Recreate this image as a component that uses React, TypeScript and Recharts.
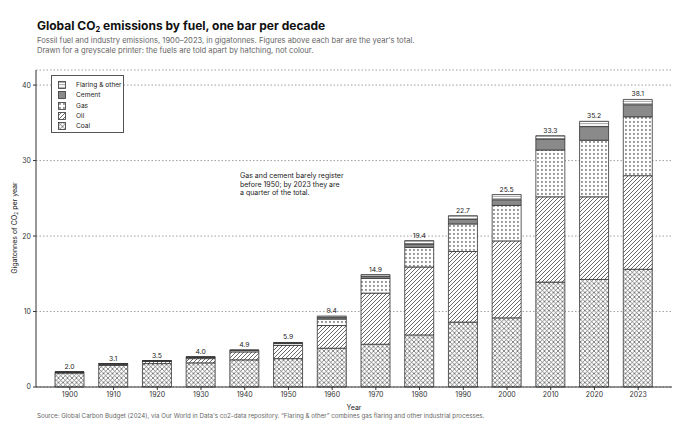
import { BarChart, Bar, XAxis, YAxis, CartesianGrid, LabelList } from 'recharts';

const years = ['1900', '1910', '1920', '1930', '1940', '1950', '1960', '1970', '1980', '1990', '2000', '2010', '2020', '2023'];
const coal = [1.85, 2.85, 3.1, 3.2, 3.6, 3.76, 5.14, 5.67, 6.9, 8.6, 9.16, 13.9, 14.25, 15.6];
const oil = [0.1, 0.17, 0.3, 0.56, 1.05, 1.74, 3.0, 6.77, 9.0, 9.35, 10.2, 11.3, 10.95, 12.4];
const gas = [0.03, 0.05, 0.06, 0.17, 0.17, 0.25, 0.86, 1.95, 2.6, 3.65, 4.7, 6.2, 7.5, 7.8];
const cement = [0.01, 0.02, 0.03, 0.05, 0.06, 0.1, 0.2, 0.3, 0.45, 0.6, 0.75, 1.45, 1.8, 1.6];
const flaring = [0.01, 0.01, 0.01, 0.02, 0.02, 0.05, 0.2, 0.21, 0.45, 0.5, 0.69, 0.45, 0.7, 0.7];
const totals = ['2.0', '3.1', '3.5', '4.0', '4.9', '5.9', '9.4', '14.9', '19.4', '22.7', '25.5', '33.3', '35.2', '38.1'];
const yTicks = [0, 10, 20, 30, 40];

const data = years.map((year, i) => ({
  year,
  coal: coal[i],
  oil: oil[i],
  gas: gas[i],
  cement: cement[i],
  flaring: flaring[i],
  total: totals[i],
}));

const FONT = 'Inter, "Noto Sans", sans-serif';
const EDGE = '#333';

// legend, top row first
const legendItems = [
  { label: 'Flaring & other', fill: 'url(#pat-flaring)' },
  { label: 'Cement', fill: '#8a8a8a' },
  { label: 'Gas', fill: 'url(#pat-gas)' },
  { label: 'Oil', fill: 'url(#pat-oil)' },
  { label: 'Coal', fill: 'url(#pat-coal)' },
];

function Patterns() {
  return (
    <svg width={0} height={0} style={{ position: 'absolute' }}>
      <defs>
        <pattern id="pat-coal" patternUnits="userSpaceOnUse" width={4.5} height={4.5}>
          <rect width={4.5} height={4.5} fill="#fff" />
          <path d="M0,0 L4.5,4.5 M4.5,0 L0,4.5" stroke="#555" strokeWidth={0.7} />
        </pattern>
        <pattern id="pat-oil" patternUnits="userSpaceOnUse" width={4} height={4}>
          <rect width={4} height={4} fill="#fff" />
          <path d="M-1,1 L1,-1 M0,4 L4,0 M3,5 L5,3" stroke="#444" strokeWidth={0.8} />
        </pattern>
        <pattern id="pat-gas" patternUnits="userSpaceOnUse" width={4} height={4}>
          <rect width={4} height={4} fill="#fff" />
          <rect x={1.2} y={1.2} width={1.5} height={1.5} fill="#555" />
        </pattern>
        <pattern id="pat-flaring" patternUnits="userSpaceOnUse" width={3} height={2.5}>
          <rect width={3} height={2.5} fill="#fff" />
          <path d="M0,1.25 L3,1.25" stroke="#555" strokeWidth={0.6} />
        </pattern>
      </defs>
    </svg>
  );
}

export default function App() {
  return (
    <div style={{ position: 'relative', width: 690, height: 431, background: '#fff', fontFamily: FONT }}>
      <style>{'body{margin:0}'}</style>
      <Patterns />
      <div style={{ position: 'absolute', left: 37, top: 18, fontSize: 12, fontWeight: 700, color: '#111', whiteSpace: 'nowrap' }}>
        Global CO<sub style={{ fontSize: 7.5, verticalAlign: '-2px' }}>2</sub> emissions by fuel, one bar per decade
      </div>
      <div style={{ position: 'absolute', left: 37, top: 36, fontSize: 7.6, lineHeight: '9.5px', color: '#666', whiteSpace: 'nowrap' }}>
        Fossil fuel and industry emissions, 1900–2023, in gigatonnes. Figures above each bar are the year's total.
        <br />
        Drawn for a greyscale printer: the fuels are told apart by hatching, not colour.
      </div>

      <BarChart
        width={690}
        height={431}
        data={data}
        margin={{ top: 70, right: 18, bottom: 0, left: 0 }}
        style={{ position: 'absolute', left: 0, top: 0 }}
      >
        <CartesianGrid vertical={false} stroke="#888" strokeDasharray="1.5 2" strokeWidth={0.8} />
        <XAxis
          dataKey="year"
          height={44}
          padding={{ left: 12, right: 12 }}
          tick={{ fontSize: 7, fill: '#333', fontFamily: FONT }}
          tickSize={3}
          axisLine={{ stroke: '#333' }}
          tickLine={{ stroke: '#333' }}
          label={{ value: 'Year', position: 'insideBottom', offset: 21, fontSize: 7, fill: '#222', fontFamily: FONT }}
        />
        <YAxis
          width={36}
          domain={[0, 42]}
          ticks={yTicks}
          tick={{ fontSize: 7, fill: '#333', fontFamily: FONT }}
          tickSize={3}
          axisLine={{ stroke: '#333' }}
          tickLine={{ stroke: '#333' }}
        />
        <Bar dataKey="coal" stackId="a" fill="url(#pat-coal)" stroke={EDGE} strokeWidth={0.8} barSize={29} isAnimationActive={false} />
        <Bar dataKey="oil" stackId="a" fill="url(#pat-oil)" stroke={EDGE} strokeWidth={0.8} barSize={29} isAnimationActive={false} />
        <Bar dataKey="gas" stackId="a" fill="url(#pat-gas)" stroke={EDGE} strokeWidth={0.8} barSize={29} isAnimationActive={false} />
        <Bar dataKey="cement" stackId="a" fill="#8a8a8a" stroke={EDGE} strokeWidth={0.8} barSize={29} isAnimationActive={false} />
        <Bar dataKey="flaring" stackId="a" fill="url(#pat-flaring)" stroke={EDGE} strokeWidth={0.8} barSize={29} isAnimationActive={false}>
          <LabelList dataKey="total" position="top" offset={3} style={{ fontSize: 6.8, fill: '#222', fontFamily: FONT }} />
        </Bar>
      </BarChart>

      <div
        style={{
          position: 'absolute',
          left: 14,
          top: 228,
          transform: 'translate(-50%, -50%) rotate(-90deg)',
          fontSize: 7,
          color: '#222',
          whiteSpace: 'nowrap',
        }}
      >
        Gigatonnes of CO<sub style={{ fontSize: 5, verticalAlign: '-1px' }}>2</sub> per year
      </div>

      <div style={{ position: 'absolute', left: 240, top: 172, fontSize: 7, lineHeight: '8.6px', color: '#222', whiteSpace: 'nowrap' }}>
        Gas and cement barely register
        <br />
        before 1950; by 2023 they are
        <br />
        a quarter of the total.
      </div>

      <div
        style={{
          position: 'absolute',
          left: 51,
          top: 75,
          width: 73,
          height: 58,
          boxSizing: 'border-box',
          border: '1px solid #555',
          background: '#fff',
          padding: '4px 0 0 6px',
        }}
      >
        {legendItems.map((item) => (
          <div
            key={item.label}
            style={{ display: 'flex', alignItems: 'center', height: 10.3, fontSize: 6.6, color: '#222', whiteSpace: 'nowrap' }}
          >
            <svg width={8} height={8} style={{ marginRight: 10, flexShrink: 0 }}>
              <rect x={0.5} y={0.5} width={7} height={7} fill={item.fill} stroke="#333" strokeWidth={0.8} />
            </svg>
            {item.label}
          </div>
        ))}
      </div>

      <div style={{ position: 'absolute', left: 37, top: 412, fontSize: 6.2, color: '#666', whiteSpace: 'nowrap' }}>
        Source: Global Carbon Budget (2024), via Our World in Data's co2-data repository. “Flaring &amp; other” combines gas flaring and other industrial processes.
      </div>
    </div>
  );
}
